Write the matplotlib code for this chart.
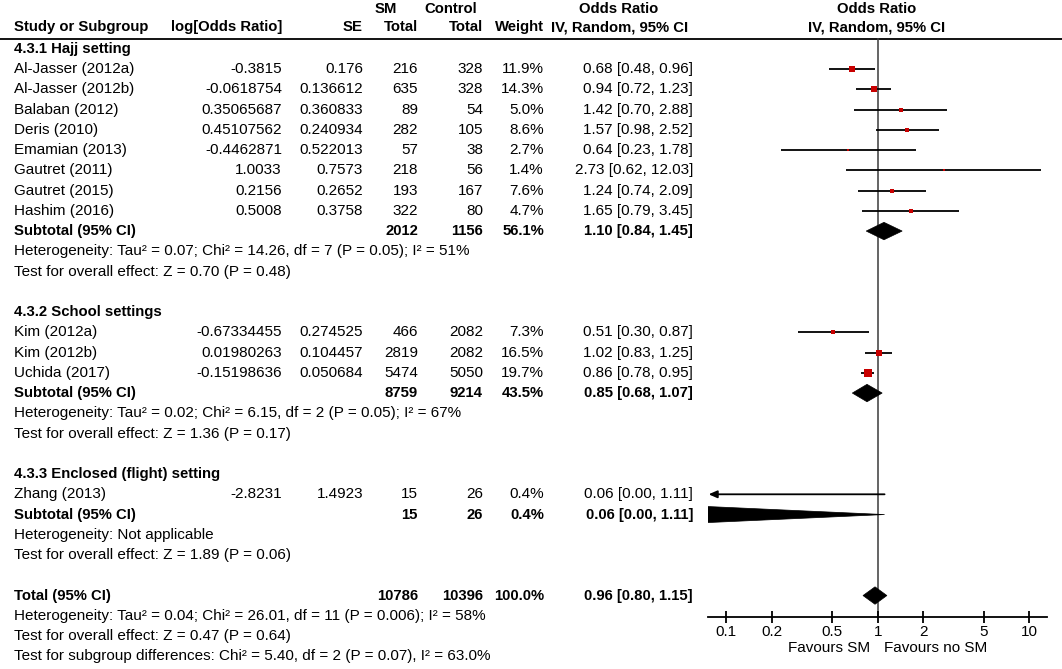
import matplotlib
matplotlib.use("Agg")
import matplotlib.pyplot as plt
from matplotlib.patches import Polygon
import numpy as np

plt.rcParams['font.family'] = ['Liberation Sans', 'DejaVu Sans']

# ---------------- data ----------------
study_names = ["Al-Jasser (2012a)", "Al-Jasser (2012b)", "Balaban (2012)", "Deris (2010)",
               "Emamian (2013)", "Gautret (2011)", "Gautret (2015)", "Hashim (2016)",
               "Kim (2012a)", "Kim (2012b)", "Uchida (2017)",
               "Zhang (2013)"]
study_group = [0, 0, 0, 0, 0, 0, 0, 0, 1, 1, 1, 2]
log_or_txt = ["-0.3815", "-0.0618754", "0.35065687", "0.45107562", "-0.4462871", "1.0033",
              "0.2156", "0.5008", "-0.67334455", "0.01980263", "-0.15198636", "-2.8231"]
se_txt = ["0.176", "0.136612", "0.360833", "0.240934", "0.522013", "0.7573",
          "0.2652", "0.3758", "0.274525", "0.104457", "0.050684", "1.4923"]
sm_total = [216, 635, 89, 282, 57, 218, 193, 322, 466, 2819, 5474, 15]
ctrl_total = [328, 328, 54, 105, 38, 56, 167, 80, 2082, 2082, 5050, 26]
weight = [11.9, 14.3, 5.0, 8.6, 2.7, 1.4, 7.6, 4.7, 7.3, 16.5, 19.7, 0.4]
or_est = [0.68, 0.94, 1.42, 1.57, 0.64, 2.73, 1.24, 1.65, 0.51, 1.02, 0.86, 0.06]
or_lo = [0.48, 0.72, 0.70, 0.98, 0.23, 0.62, 0.74, 0.79, 0.30, 0.83, 0.78, 0.00]
or_hi = [0.96, 1.23, 2.88, 2.52, 1.78, 12.03, 2.09, 3.45, 0.87, 1.25, 0.95, 1.11]

group_titles = ["4.3.1 Hajj setting", "4.3.2 School settings", "4.3.3 Enclosed (flight) setting"]
sub_sm = [2012, 8759, 15]
sub_ctrl = [1156, 9214, 26]
sub_weight = [56.1, 43.5, 0.4]
sub_or = [1.10, 0.85, 0.06]
sub_lo = [0.84, 0.68, 0.00]
sub_hi = [1.45, 1.07, 1.11]
sub_het = ["Heterogeneity: Tau\u00b2 = 0.07; Chi\u00b2 = 14.26, df = 7 (P = 0.05); I\u00b2 = 51%",
           "Heterogeneity: Tau\u00b2 = 0.02; Chi\u00b2 = 6.15, df = 2 (P = 0.05); I\u00b2 = 67%",
           "Heterogeneity: Not applicable"]
sub_test = ["Test for overall effect: Z = 0.70 (P = 0.48)",
            "Test for overall effect: Z = 1.36 (P = 0.17)",
            "Test for overall effect: Z = 1.89 (P = 0.06)"]

tot_sm = 10786
tot_ctrl = 10396
tot_weight = 100.0
tot_or, tot_lo, tot_hi = 0.96, 0.80, 1.15
tot_lines = ["Heterogeneity: Tau\u00b2 = 0.04; Chi\u00b2 = 26.01, df = 11 (P = 0.006); I\u00b2 = 58%",
             "Test for overall effect: Z = 0.47 (P = 0.64)",
             "Test for subgroup differences: Chi\u00b2 = 5.40, df = 2 (P = 0.07), I\u00b2 = 63.0%"]

tick_vals = [0.1, 0.2, 0.5, 1, 2, 5, 10]
tick_labels = ["0.1", "0.2", "0.5", "1", "2", "5", "10"]
favours = ["Favours SM", "Favours no SM"]

# ---------------- layout ----------------
W, H = 1062, 669
fig = plt.figure(figsize=(W / 100, H / 100), dpi=100)
fig.patch.set_facecolor("white")

ax_t = fig.add_axes([0, 0, 1, 1])
ax_t.set_xlim(0, W)
ax_t.set_ylim(H, 0)
ax_t.axis("off")

Y0, STEP = 48.8, 20.25
def ypix(r):
    return Y0 + STEP * r

FS = 11.0
FSB = 10.7
X_STUDY, X_LOGOR, X_SE, X_SM, X_CTRL, X_WT, X_OR = 14, 282, 363, 418, 483, 544, 693
RED = "#C80000"

def txt(x, y, s, ha="left", bold=False, **kw):
    ax_t.text(x, y, s, ha=ha, va="center", fontsize=FSB if bold else FS,
              fontweight="bold" if bold else "normal", color="black", **kw)

# header
HY1, HY2 = 9.0, 27.0
txt(386, HY1, "SM", ha="center", bold=True)
txt(451, HY1, "Control", ha="center", bold=True)
txt(619, HY1, "Odds Ratio", ha="center", bold=True)
txt(877, HY1, "Odds Ratio", ha="center", bold=True)
txt(X_STUDY, HY2, "Study or Subgroup", bold=True)
txt(X_LOGOR, HY2, "log[Odds Ratio]", ha="right", bold=True)
txt(X_SE, HY2, "SE", ha="right", bold=True)
txt(X_SM, HY2, "Total", ha="right", bold=True)
txt(X_CTRL, HY2, "Total", ha="right", bold=True)
txt(X_WT, HY2, "Weight", ha="right", bold=True)
txt(620, HY2, "IV, Random, 95% CI", ha="center", bold=True)
txt(877, HY2, "IV, Random, 95% CI", ha="center", bold=True)
ax_t.plot([0, W], [38.8, 38.8], color="black", lw=1.3, solid_capstyle="butt")

# forest axes
LX = 10 ** -1.12
RX = 10 ** 1.12
ax_left, ax_right = 708.0, 1047.4
ax_top, ax_bot = 38.0, 617.0
ax = fig.add_axes([ax_left / W, 1 - ax_bot / H, (ax_right - ax_left) / W, (ax_bot - ax_top) / H])
ax.set_facecolor("none")
ax.set_xscale("log")
ax.set_xlim(LX, RX)
r_top = (ax_top - Y0) / STEP
r_bot = (ax_bot - Y0) / STEP
ax.set_ylim(r_bot, r_top)
for sp in ("top", "left", "right"):
    ax.spines[sp].set_visible(False)
ax.spines["bottom"].set_linewidth(1.3)
ax.set_yticks([])
ax.set_xticks(tick_vals)
ax.set_xticklabels(tick_labels, fontsize=FS)
ax.xaxis.set_minor_locator(matplotlib.ticker.NullLocator())
ax.tick_params(axis="x", direction="inout", length=8, width=1.3, pad=1.5)
ax.axvline(1, color="#3a3a3a", lw=1.1, zorder=1)

DH = 0.43

def diamond(row, c, lo, hi):
    lo = max(lo, 1e-3)
    poly = Polygon([(lo, row), (c, row - DH), (hi, row), (c, row + DH)], closed=True,
                   facecolor="black", edgecolor="black", lw=0.5, zorder=3)
    ax.add_patch(poly)

row = 0
for g in range(3):
    txt(X_STUDY, ypix(row), group_titles[g], bold=True)
    row += 1
    for i, gi in enumerate(study_group):
        if gi != g:
            continue
        y = ypix(row)
        txt(X_STUDY, y, study_names[i])
        txt(X_LOGOR, y, log_or_txt[i], ha="right")
        txt(X_SE, y, se_txt[i], ha="right")
        txt(X_SM, y, f"{sm_total[i]}", ha="right")
        txt(X_CTRL, y, f"{ctrl_total[i]}", ha="right")
        txt(X_WT, y, f"{weight[i]:.1f}%", ha="right")
        txt(X_OR, y, f"{or_est[i]:.2f} [{or_lo[i]:.2f}, {or_hi[i]:.2f}]", ha="right")
        if or_lo[i] < LX:
            ax.annotate("", xy=(LX * 1.01, row), xytext=(or_hi[i], row),
                        arrowprops=dict(arrowstyle="-|>,head_length=0.5,head_width=0.22",
                                        color="black", lw=1.3, shrinkA=0, shrinkB=0),
                        zorder=2)
        else:
            ax.plot([or_lo[i], or_hi[i]], [row, row], color="black", lw=1.3, zorder=2,
                    solid_capstyle="butt")
        ax.scatter([or_est[i]], [row], marker="s", s=1.5 * weight[i], color=RED,
                   linewidths=0, zorder=4, clip_on=True)
        row += 1
    y = ypix(row)
    txt(X_STUDY, y, "Subtotal (95% CI)", bold=True)
    txt(X_SM, y, f"{sub_sm[g]}", ha="right", bold=True)
    txt(X_CTRL, y, f"{sub_ctrl[g]}", ha="right", bold=True)
    txt(X_WT, y, f"{sub_weight[g]:.1f}%", ha="right", bold=True)
    txt(X_OR, y, f"{sub_or[g]:.2f} [{sub_lo[g]:.2f}, {sub_hi[g]:.2f}]", ha="right", bold=True)
    diamond(row, sub_or[g], sub_lo[g], sub_hi[g])
    row += 1
    txt(X_STUDY, ypix(row), sub_het[g])
    row += 1
    txt(X_STUDY, ypix(row), sub_test[g])
    row += 2

y = ypix(row)
txt(X_STUDY, y, "Total (95% CI)", bold=True)
txt(X_SM, y, f"{tot_sm}", ha="right", bold=True)
txt(X_CTRL, y, f"{tot_ctrl}", ha="right", bold=True)
txt(X_WT, y, f"{tot_weight:.1f}%", ha="right", bold=True)
txt(X_OR, y, f"{tot_or:.2f} [{tot_lo:.2f}, {tot_hi:.2f}]", ha="right", bold=True)
diamond(row, tot_or, tot_lo, tot_hi)
row += 1
for line in tot_lines:
    txt(X_STUDY, ypix(row), line)
    row += 1

txt(870, 648, favours[0], ha="right")
txt(884, 648, favours[1], ha="left")

fig.savefig("out.png", dpi=100, facecolor="white")
